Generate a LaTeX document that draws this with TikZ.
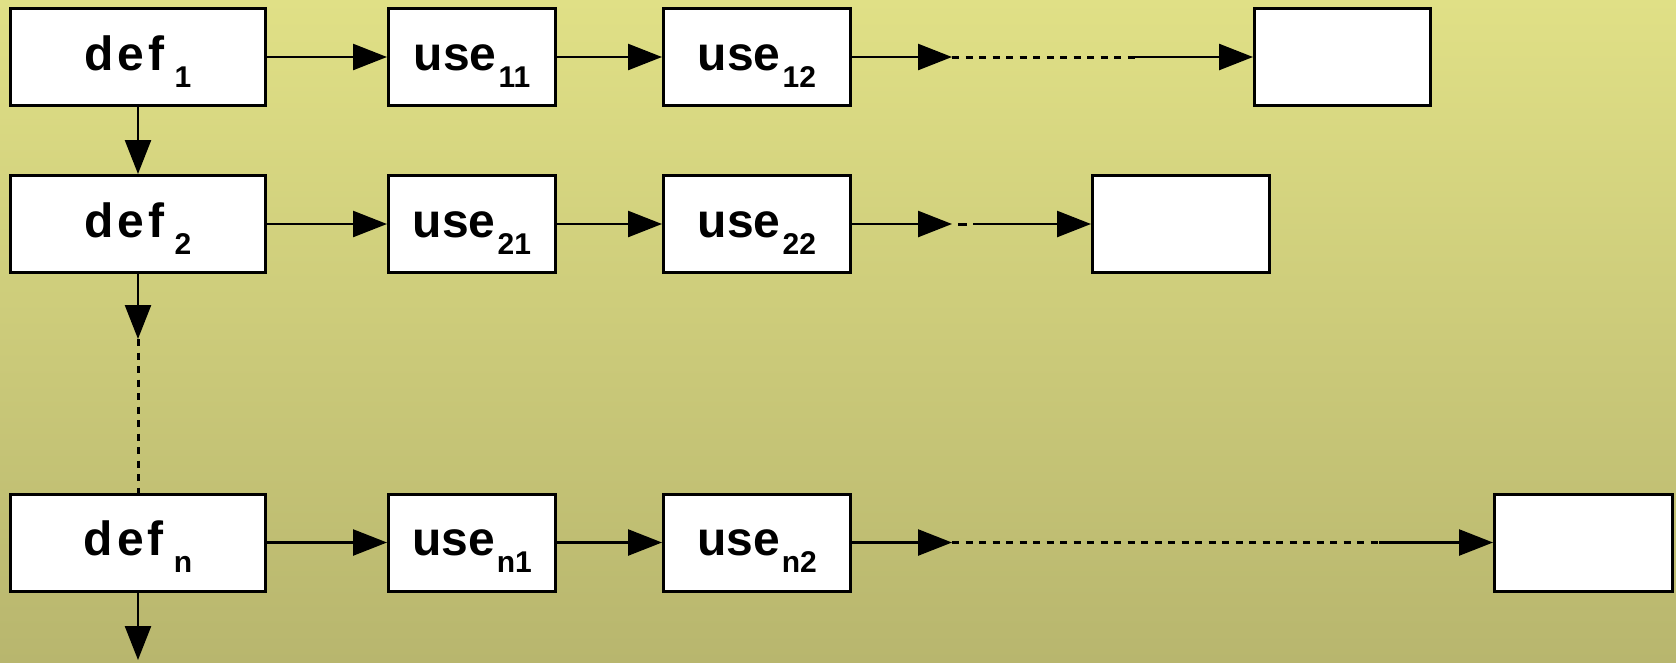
\documentclass[tikz,border=0pt]{standalone}
\usepackage{fontspec}
\setmainfont{Liberation Sans}
\usetikzlibrary{arrows.meta}
\definecolor{bgtop}{RGB}{224,224,134}
\definecolor{bgbot}{RGB}{184,182,110}
\newcommand{\subsz}{\fontsize{30}{30}\selectfont}
\newcommand{\lbl}[3]{#1\kern #3\raisebox{-17pt}{\subsz #2}}
\newcommand{\deftxt}{d\kern 4pt e\kern 4pt f}
\tikzset{
  box/.style={draw=black, line width=3pt, fill=white, inner sep=0pt,
    minimum height=97pt, text height=38pt, text depth=12pt,
    font=\fontsize{48}{48}\selectfont\bfseries},
  arr/.style={line width=2.5pt, -{Triangle[length=34pt,width=26pt]}},
  dashln/.style={line width=3pt, dash pattern=on 7pt off 6.5pt},
  dotln/.style={line width=3pt, dash pattern=on 0pt off 6pt on 9pt off 30pt},
}
\begin{document}
\begin{tikzpicture}[x=1pt,y=-1pt]
\shade[top color=bgtop, bottom color=bgbot] (0,0) rectangle (1676,662);
\useasboundingbox (0,0) rectangle (1676,662);
% row 1
\node[box, minimum width=255pt] (def1) at (138,57) {\lbl{\deftxt}{1}{10pt}};
\node[box, minimum width=167pt] (u11) at (472,57) {\lbl{use}{11}{2pt}};
\node[box, minimum width=187pt] (u12) at (757,57) {\lbl{use}{12}{2pt}};
\node[box, minimum width=176pt] (e1) at (1342.5,57) {};
% row 2
\node[box, minimum width=255pt] (def2) at (138,224) {\lbl{\deftxt}{2}{10pt}};
\node[box, minimum width=167pt] (u21) at (472,224) {\lbl{use}{21}{2pt}};
\node[box, minimum width=187pt] (u22) at (757,224) {\lbl{use}{22}{2pt}};
\node[box, minimum width=177pt] (e2) at (1181,224) {};
% row 3
\node[box, minimum width=255pt] (defn) at (138,542.5) {\lbl{\deftxt}{n}{10pt}};
\node[box, minimum width=167pt] (un1) at (472,542.5) {\lbl{use}{n1}{2pt}};
\node[box, minimum width=187pt] (un2) at (757,542.5) {\lbl{use}{n2}{2pt}};
\node[box, minimum width=178pt] (e3) at (1583.5,542.5) {};
% coordinates
\coordinate (c1a) at (952,57);
\coordinate (c1b) at (1135,57);
\coordinate (c2a) at (952,224);
\coordinate (c2b) at (973,224);
\coordinate (c3a) at (952,542.5);
\coordinate (c3b) at (1379,542.5);
\coordinate (cva) at (138,339);
\coordinate (cvb) at (138,660);
% row 1 arrows
\draw[arr] (def1) -- (u11);
\draw[arr] (u11) -- (u12);
\draw[arr] (u12.east) -- (c1a);
\draw[dashln] (c1a) -- (c1b);
\draw[arr] (c1b) -- (e1.west);
% row 2 arrows
\draw[arr] (def2) -- (u21);
\draw[arr] (u21) -- (u22);
\draw[arr] (u22.east) -- (c2a);
\draw[dotln] (c2a) -- (c2b);
\draw[arr] (c2b) -- (e2.west);
% row 3 arrows
\draw[arr] (defn) -- (un1);
\draw[arr] (un1) -- (un2);
\draw[arr] (un2.east) -- (c3a);
\draw[dashln] (c3a) -- (c3b);
\draw[arr] (c3b) -- (e3.west);
% vertical
\draw[arr] (def1) -- (def2);
\draw[arr] (def2.south) -- (cva);
\draw[dashln] (cva) -- (defn.north);
\draw[arr] (defn.south) -- (cvb);
\end{tikzpicture}
\end{document}
